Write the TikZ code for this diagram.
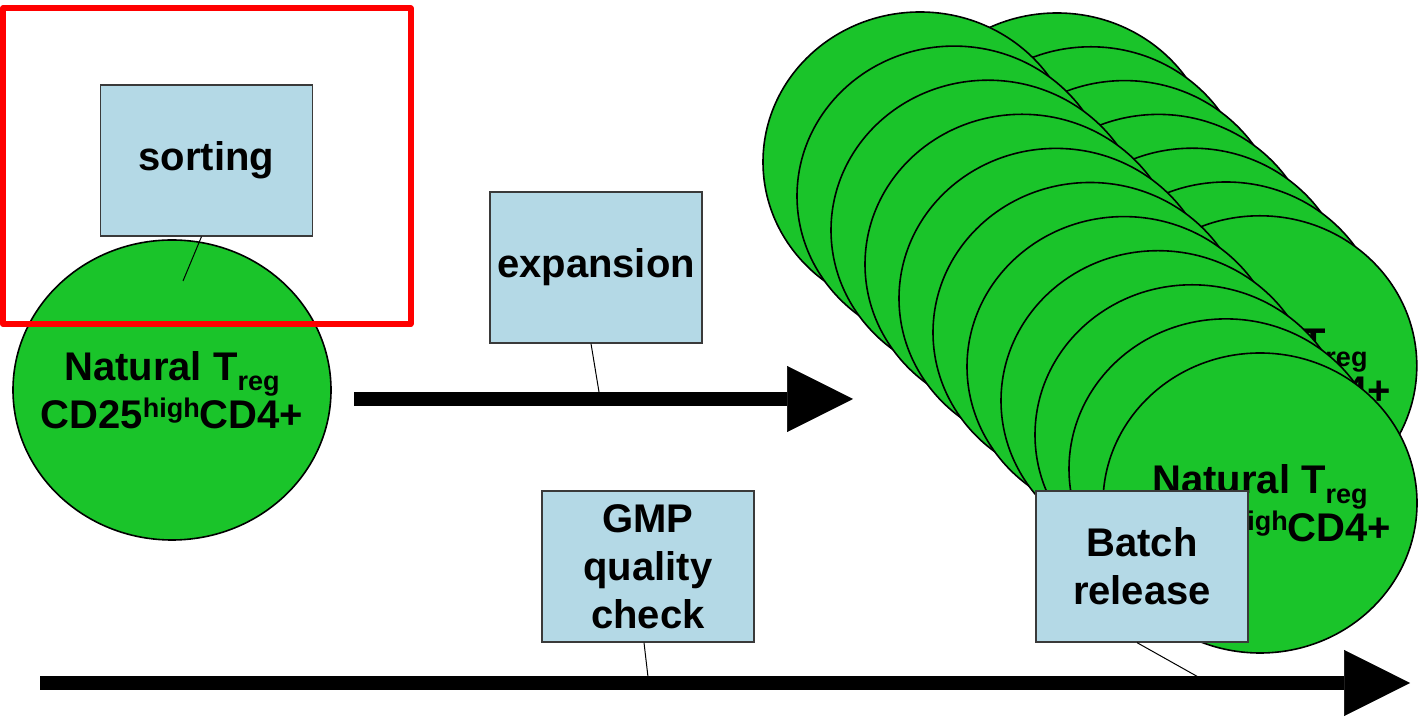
\documentclass[tikz,border=0pt]{standalone}
\usepackage{fontspec}
\setmainfont{Liberation Sans}
\usetikzlibrary{arrows.meta,shapes.geometric}
\definecolor{cellgreen}{HTML}{1AC42A}
\definecolor{boxblue}{HTML}{B4D9E6}
\definecolor{boxedge}{HTML}{3A3A3A}
\newcommand{\cellsub}[1]{\raisebox{-10pt}{\fontsize{27}{27}\selectfont #1}}
\newcommand{\cellsup}[1]{\raisebox{11pt}{\fontsize{27}{27}\selectfont #1}}
\newcommand{\treg}{Natural T\cellsub{reg}\\CD25\cellsup{high}CD4+}

\begin{document}
\begin{tikzpicture}[x=1pt,y=1pt,font=\fontsize{40}{48}\selectfont\bfseries,cell/.style={ellipse,draw=black,line width=1.6pt,fill=cellgreen,minimum width=314pt,minimum height=300pt,inner sep=0pt},celltext/.style={align=center,inner sep=0pt},stepbox/.style={rectangle,draw=boxedge,line width=1.3pt,fill=boxblue,minimum width=212pt,minimum height=151pt,inner sep=0pt,align=center},pointer/.style={draw=black,line width=1pt},bigarrow/.style={line width=14pt,-{Triangle[length=66pt,width=66pt,line width=0.5pt]}},redframe/.style={draw=red,line width=6pt,line join=round}]
            \useasboundingbox (0,0) rectangle (1418,719);

            \foreach \j in {0,...,6}
                \node[cell] (back\j) at ({1057+33.8*\j},{556-33.8*\j}) {};
            \node[celltext] (back6text) at (back6) {\treg};
            \foreach \i in {0,...,10}
                \node[cell] (front\i) at ({920+34*\i},{557-34.1*\i}) {};
            \node[celltext] (front10text) at (front10) {\treg};

            \node[cell,minimum width=318pt] (start) at (172,329) {};
            \node[celltext] (starttext) at (start) {\treg};
            \draw[redframe] (3,710.5) rectangle (410.5,395);

            \node[stepbox] (sort) at (206.5,558.5) {sorting};
            \node[stepbox] (expand) at (596,451.5) {expansion};
            \node[stepbox] (gmp) at (648,152.5) {GMP\\quality\\check};
            \node[stepbox] (batch) at (1142,152.5) {Batch\\release};

            \coordinate (growstart) at (354,320);
            \coordinate (growend) at (853,320);
            \coordinate (timestart) at (40,36);
            \coordinate (timeend) at (1410,36);
            \draw[bigarrow] (growstart) -- (growend);
            \draw[bigarrow] (timestart) -- (timeend);

            \coordinate (sortend) at (183,438);
            \coordinate (expandend) at (599,327);
            \coordinate (gmpend) at (648,42);
            \coordinate (batchend) at (1200,41);
            \path[pointer]
                ([xshift=-5pt]sort.south) edge (sortend)
                ([xshift=-5pt]expand.south) edge (expandend)
                ([xshift=-4pt]gmp.south) edge (gmpend)
                ([xshift=-5pt]batch.south) edge (batchend)
                ;
        \end{tikzpicture}
\end{document}
